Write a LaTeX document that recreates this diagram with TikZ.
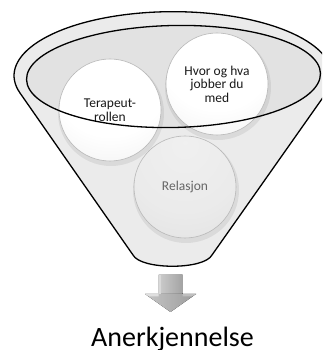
\documentclass[tikz,border=0pt]{standalone}
\usepackage{fontspec}
\setmainfont{Carlito}
\definecolor{funnelbody}{HTML}{EBEBEB}
\definecolor{innergray}{HTML}{E2E2E2}
\pgfdeclareradialshading{spherewhite}{\pgfpoint{0bp}{22bp}}{color(0bp)=(white); color(28bp)=(white); color(44bp)=(black!5); color(58bp)=(black!16); color(68bp)=(black!26); color(76bp)=(black!30); color(90bp)=(black!30)}
\pgfdeclareradialshading{spheregray}{\pgfpoint{0bp}{22bp}}{color(0bp)=(black!6); color(28bp)=(black!8); color(44bp)=(black!11); color(58bp)=(black!18); color(68bp)=(black!27); color(76bp)=(black!32); color(90bp)=(black!32)}
\begin{document}
\begin{tikzpicture}[x=1pt,y=1pt,
  outline/.style={draw=black, line width=1.3pt},
  ball/.style={circle, minimum size=102pt, inner sep=0pt, draw=black!28, line width=0.6pt, align=center, font=\fontsize{13.5}{13.5}\selectfont, text=black!90},
  shadowball/.style={fill=black, opacity=0.07},
  label/.style={font=\fontsize{28}{28}\selectfont, anchor=base, text=black}
]
\useasboundingbox (0,0) rectangle (322,350);
\begin{scope}
\clip (0,0) rectangle (322,350);
% funnel body
\path[fill=funnelbody, outline] (20,257) arc[start angle=195.7, end angle=-15.7, x radius=159, y radius=64] -- (212,95) .. controls (204,80) and (141,80) .. (133,95) -- cycle;
% inner ellipse fill
\path[fill=innergray, rotate around={1.2:(173.5,273.5)}] (173.5,273.5) ellipse [x radius=147, y radius=51];
% soft shadows
\path[shadowball] (186,160) circle[radius=53];
\path[shadowball] (111,237) circle[radius=53];
\path[shadowball] (218,263) circle[radius=53];
% spheres
\node[ball, shading=spheregray, text=black!60] (rel) at (185,163) {Relasjon};
\node[ball, shading=spherewhite] (ter) at (110,240) {Terapeut-\\rollen};
\node[ball, shading=spherewhite] (hvor) at (217,266) {Hvor og hva\\jobber du\\med};
% inner ellipse outline over spheres
\path[outline, rotate around={1.2:(173.5,273.5)}] (173.5,273.5) ellipse [x radius=147, y radius=51];
\end{scope}
% arrow
\fill[left color=gray!40, right color=gray!72] (158.5,75) rectangle (182.5,56);
\fill[left color=gray!45, right color=gray!78] (145,56) -- (196,56) -- (170.5,38) -- cycle;
\fill[gray!25] (145,56) -- (158.5,56) -- (158.5,53.5) -- (149.5,53.5) -- cycle;
\fill[gray!50] (196,56) -- (182.5,56) -- (182.5,53.5) -- (191.5,53.5) -- cycle;
\fill[gray!30] (158.5,75) rectangle (160.5,56);
% label
\node[label] (lbl) at (172.5,4) {Anerkjennelse};
\end{tikzpicture}
\end{document}
